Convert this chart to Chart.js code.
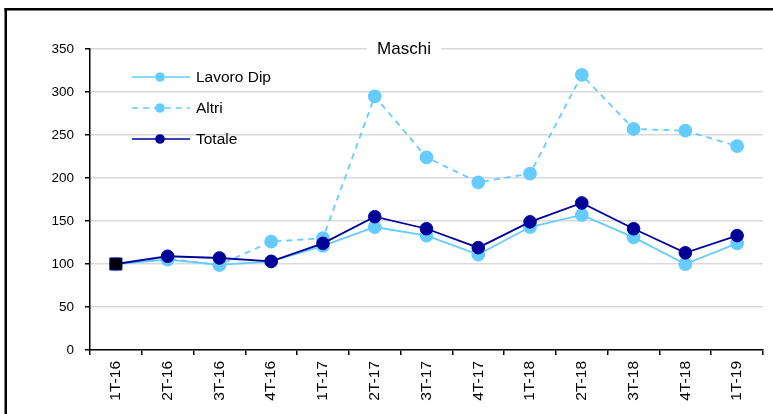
<!DOCTYPE html>
<html>
<head>
<meta charset="utf-8">
<style>
  body { margin: 0; background: #fff; }
  canvas { display: block; }
</style>
<script src="https://cdn.jsdelivr.net/npm/chart.js@4/dist/chart.umd.min.js"></script>
</head>
<body>
<canvas id="line-chart" width="773" height="414"></canvas>
<script>
const quarters = ['1T-16','2T-16','3T-16','4T-16','1T-17','2T-17','3T-17','4T-17','1T-18','2T-18','3T-18','4T-18','1T-19'];
const lavoroDip = [100, 105, 99, 103, 121, 143, 133, 111, 143, 157, 131, 100, 124];
const altri     = [100, 106, 99, 126, 130, 295, 224, 195, 205, 320, 257, 255, 237];
const totale    = [100, 109, 107, 103, 124, 155, 141, 119, 149, 171, 141, 113, 133];
const yTicks = [0, 50, 100, 150, 200, 250, 300, 350];

const FONT = '"Liberation Sans", Arial, sans-serif';
const LIGHT = '#66CCFF';
const NAVY = '#000099';

// frame + title sitting on the top gridline
const decor = {
  id: 'decor',
  beforeDraw(chart) {
    const c = chart.ctx;
    c.save();
    c.fillStyle = '#000';
    c.fillRect(4.5, 8, 2.5, 406);
    c.fillRect(4.5, 8, 769, 2.5);
    c.restore();
  },
  afterDraw(chart) {
    const c = chart.ctx;
    c.save();
    c.font = '17px ' + FONT;
    const w = c.measureText('Maschi').width;
    const x = 404, y = chart.chartArea.top;
    c.fillStyle = '#fff';
    c.fillRect(x - w / 2 - 10, y - 3, w + 20, 6);
    c.fillStyle = '#000';
    c.textAlign = 'center';
    c.textBaseline = 'middle';
    c.fillText('Maschi', x, y);

    // legend
    const rows = [77, 108, 139];
    c.font = '15.5px ' + FONT;
    c.textAlign = 'left';
    chart.data.datasets.forEach((ds, i) => {
      const yy = rows[i];
      c.strokeStyle = ds.borderColor;
      c.lineWidth = 1.5;
      c.setLineDash(ds.borderDash || []);
      c.beginPath();
      c.moveTo(132, yy);
      c.lineTo(190, yy);
      c.stroke();
      c.setLineDash([]);
      c.fillStyle = ds.borderColor;
      c.beginPath();
      c.arc(160, yy, 4.8, 0, Math.PI * 2);
      c.fill();
      c.fillStyle = '#000';
      c.fillText(ds.label, 196, yy + 1);
    });
    c.restore();
  }
};

const chart = new Chart(document.getElementById('line-chart'), {
  type: 'line',
  data: {
    labels: quarters,
    datasets: [{
      label: 'Lavoro Dip',
      data: lavoroDip,
      borderColor: LIGHT,
      backgroundColor: LIGHT,
      pointBackgroundColor: LIGHT,
      pointBorderColor: LIGHT,
      borderWidth: 1.8,
      pointRadius: 6,
      order: 2
    }, {
      label: 'Altri',
      data: altri,
      borderColor: LIGHT,
      backgroundColor: LIGHT,
      pointBackgroundColor: LIGHT,
      pointBorderColor: LIGHT,
      borderWidth: 1.8,
      borderDash: [6, 5],
      pointRadius: 6,
      order: 3
    }, {
      label: 'Totale',
      data: totale,
      borderColor: NAVY,
      backgroundColor: NAVY,
      pointBackgroundColor: ctx => ctx.dataIndex === 0 ? '#000' : NAVY,
      pointBorderColor: NAVY,
      pointBorderWidth: 1,
      pointStyle: ctx => ctx.dataIndex === 0 ? 'rect' : 'circle',
      pointRadius: ctx => ctx.dataIndex === 0 ? 8.5 : 6.3,
      borderWidth: 1.8,
      order: 1
    }]
  },
  options: {
    responsive: false,
    animation: false,
    events: [],
    layout: { padding: { top: 49, right: 10, left: 0, bottom: 0 } },
    plugins: {
      legend: { display: false },
      title: { display: false },
      tooltip: { enabled: false }
    },
    scales: {
      x: {
        offset: true,
        afterFit: s => { s.height = 64; },
        grid: {
          display: true,
          drawOnChartArea: false,
          offset: true,
          tickLength: 5,
          color: '#000',
          lineWidth: 1.5
        },
        border: { display: true, color: '#000', width: 1.5 },
        ticks: {
          minRotation: 90,
          maxRotation: 90,
          padding: 6,
          color: '#000',
          font: { family: FONT, size: 15.5 }
        }
      },
      y: {
        min: 0,
        max: 350,
        afterFit: s => { s.width = 90; },
        afterBuildTicks: s => { s.ticks = yTicks.map(v => ({ value: v })); },
        grid: {
          color: '#d9d9d9',
          lineWidth: 1.5,
          tickColor: '#000',
          tickLength: 5
        },
        border: { display: true, color: '#000', width: 1.5 },
        ticks: {
          padding: 11,
          color: '#000',
          font: { family: FONT, size: 13.5 }
        }
      }
    }
  },
  plugins: [decor]
});
</script>
</body>
</html>
